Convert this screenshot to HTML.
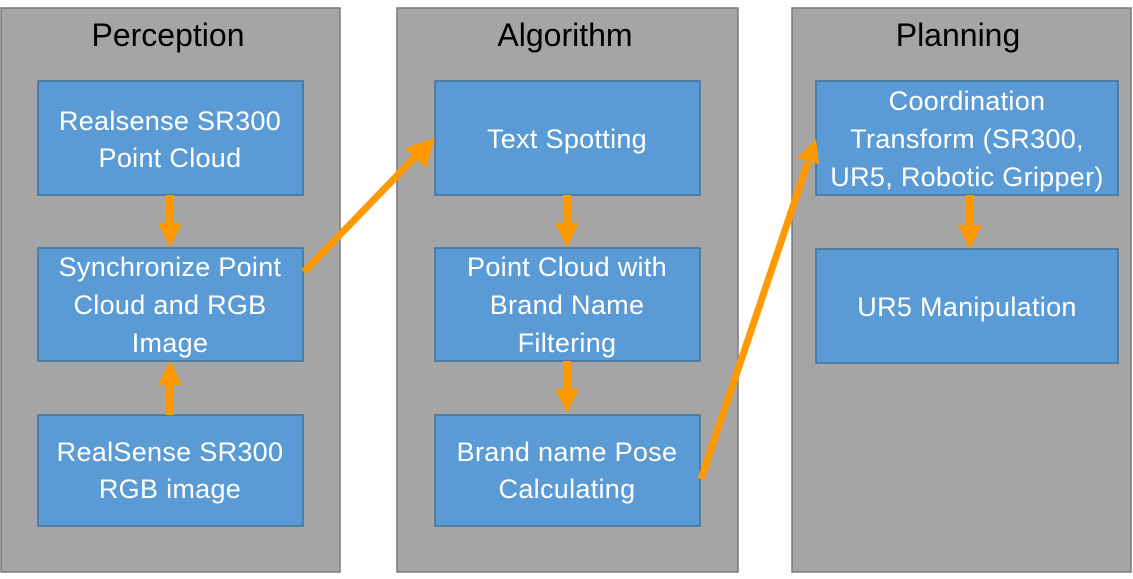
<!DOCTYPE html>
<html><head><meta charset="utf-8"><style>
body{margin:0;background:#fff}
svg text{font-family:"Liberation Sans",sans-serif;fill:#fff;text-anchor:middle}
</style></head><body>
<svg width="1133" height="574" viewBox="0 0 1133 574">
<g fill="#a5a5a5" stroke="#7a7a7a" stroke-width="1.5">
<rect x="1" y="8" width="339" height="564"/>
<rect x="397" y="8" width="341" height="564"/>
<rect x="792" y="8" width="339" height="564"/>
</g>
<g font-size="32">
<text x="168" y="46" style="fill:#000">Perception</text>
<text x="565" y="46" style="fill:#000">Algorithm</text>
<text x="958" y="46" style="fill:#000">Planning</text>
</g>
<g fill="#5b9bd5" stroke="#41719c" stroke-width="1.5">
<rect x="38" y="81" width="265" height="114"/>
<rect x="38" y="248" width="265" height="113"/>
<rect x="38" y="415" width="265" height="111"/>
<rect x="435" y="81" width="265" height="114"/>
<rect x="435" y="248" width="265" height="113"/>
<rect x="435" y="415" width="265" height="111"/>
<rect x="816" y="81" width="302" height="114"/>
<rect x="816" y="249" width="302" height="114"/>
</g>
<g font-size="27" style="letter-spacing:0.3px">
<text x="170" y="130">Realsense SR300</text><text x="170" y="167">Point Cloud</text>
<text x="170" y="276">Synchronize Point</text><text x="170" y="314">Cloud and RGB</text><text x="170" y="352">Image</text>
<text x="170" y="461">RealSense SR300</text><text x="170" y="498">RGB image</text>
<text x="567" y="148">Text Spotting</text>
<text x="567" y="276">Point Cloud with</text><text x="567" y="314">Brand Name</text><text x="567" y="352">Filtering</text>
<text x="567" y="461">Brand name Pose</text><text x="567" y="498">Calculating</text>
<text x="967" y="110">Coordination</text><text x="967" y="148">Transform (SR300,</text><text x="967" y="186">UR5, Robotic Gripper)</text>
<text x="967" y="316">UR5 Manipulation</text>
</g>
<g stroke="#ff9900" stroke-width="7" fill="none">
<line x1="170" y1="195" x2="170" y2="230" stroke-width="8"/>
<line x1="170" y1="415" x2="170" y2="380" stroke-width="8"/>
<line x1="567" y1="195" x2="567" y2="230" stroke-width="8"/>
<line x1="567" y1="361" x2="567" y2="396" stroke-width="8"/>
<line x1="970" y1="195" x2="970" y2="231" stroke-width="8"/>
<line x1="304" y1="272" x2="418" y2="154"/>
<line x1="701" y1="479" x2="808" y2="162"/>
</g>
<g fill="#ff9900">
<polygon points="158,223 182,223 170,247"/>
<polygon points="158,385 182,385 170,361"/>
<polygon points="555,223 579,223 567,247"/>
<polygon points="555,389 579,389 567,413"/>
<polygon points="958,225 982,225 970,249"/>
<polygon points="435,138 426,168 405,148"/>
<polygon points="816,139 819,164 797,158"/>
</g>
</svg>
</body></html>
